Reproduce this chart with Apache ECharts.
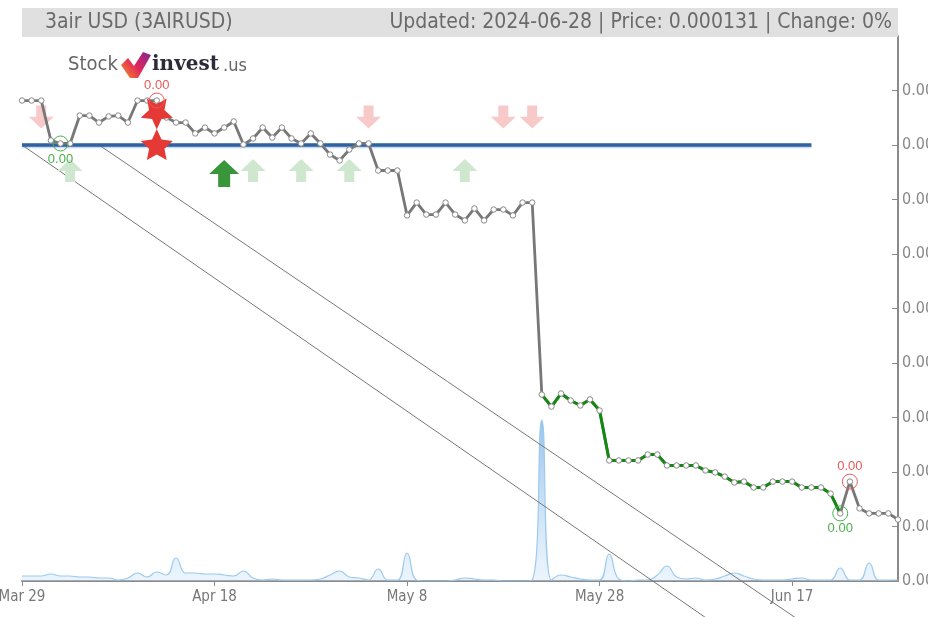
<!DOCTYPE html>
<html>
<head>
<meta charset="utf-8">
<script src="https://cdn.jsdelivr.net/npm/echarts@6/dist/echarts.min.js"></script>
<style>
    html, body { margin: 0; padding: 0; background: #fff; }
    #chart { width: 928px; height: 617px; }
</style>
</head>
<body>
<div id="chart"></div>
<script>
// daily closes, Mar 29 .. Jun 28 2024
var startDate = '2024-03-29';
var prices = [
    0.0003204, 0.0003204, 0.0003204, 0.0003021, 0.0003007, 0.0003007, 0.0003135, 0.0003135,
    0.0003103, 0.0003131, 0.0003135, 0.0003103, 0.0003204, 0.0003204, 0.0003204, 0.0003126,
    0.0003103, 0.0003103, 0.0003053, 0.0003080, 0.0003053, 0.0003080, 0.0003108, 0.0003002,
    0.0003030, 0.0003080, 0.0003034, 0.0003080, 0.0003030, 0.0003007, 0.0003053, 0.0003007,
    0.0002956, 0.0002929, 0.0002979, 0.0003007, 0.0003007, 0.0002883, 0.0002883, 0.0002883,
    0.0002677, 0.0002736, 0.0002681, 0.0002681, 0.0002736, 0.0002681, 0.0002654, 0.0002709,
    0.0002654, 0.0002704, 0.0002704, 0.0002677, 0.0002736, 0.0002736, 0.0001855, 0.0001800,
    0.0001860, 0.0001828, 0.0001805, 0.0001833, 0.0001782, 0.0001553, 0.0001553, 0.0001553,
    0.0001553, 0.0001580, 0.0001580, 0.0001530, 0.0001530, 0.0001530, 0.0001530, 0.0001507,
    0.0001498, 0.0001479, 0.0001452, 0.0001456, 0.0001429, 0.0001429, 0.0001456, 0.0001456,
    0.0001456, 0.0001429, 0.0001429, 0.0001429, 0.0001401, 0.0001310, 0.0001456, 0.0001333,
    0.0001310, 0.0001310, 0.0001310, 0.0001282
];
var volumes = [
    5, 5, 5, 7, 5, 5, 4, 4, 3, 3, 1, 3, 8, 4, 9, 6,
    23, 8, 8, 7, 7, 6, 5, 10, 3, 1, 2, 1, 1, 1, 1, 2,
    6, 10, 4, 3, 1, 12, 1, 1, 28, 1, 0, 0, 0, 1, 3, 2,
    1, 1, 0, 0, 0, 1, 161, 1, 6, 4, 2, 1, 1, 27, 2, 0,
    1, 1, 6, 15, 4, 2, 3, 1, 2, 5, 8, 5, 2, 1, 1, 1,
    2, 3, 1, 1, 1, 13, 1, 1, 18, 1, 1, 1
];
// green stretch of the line (index range)
var greenFrom = 54, greenTo = 85;
// resistance level
var resistance = [[0, 0.0003], [82, 0.0003]];
// trend channel
var trendLow = [[0, 0.0003], [72, 0.0000802]];
var trendHigh = [[8, 0.0003], [81, 0.0000812]];
// signals [index, price]
var sellArrows = [[2, 0.0003128], [36, 0.0003128], [50, 0.0003128], [53, 0.0003128]];
var buyArrows = [[5, 0.0002883], [24, 0.0002883], [29, 0.0002883], [34, 0.0002883], [46, 0.0002883]];
var buyStrong = [[21, 0.0002869]];
var sellStars = [[14, 0.0003142, 180], [14, 0.0003002, 0]];
var topCircles = [[14, 0.0003204], [86, 0.0001456]];
var bottomCircles = [[4, 0.0003007], [85, 0.0001310]];

var months = ['Jan', 'Feb', 'Mar', 'Apr', 'May', 'Jun', 'Jul', 'Aug', 'Sep', 'Oct', 'Nov', 'Dec'];
var dates = [];
var d0 = new Date(startDate + 'T00:00:00Z');
for (var i = 0; i < prices.length; i++) {
    var d = new Date(d0.getTime() + i * 86400000);
    dates.push(months[d.getUTCMonth()] + ' ' + d.getUTCDate());
}

var greenData = prices.map(function(p, i) {
    return (i >= greenFrom && i <= greenTo) ? p : '-';
});
var dotData = prices.map(function(p, i) { return [i, p]; });

var starPath = 'path://M50,0 L64.1,30.6 L97.6,34.5 L72.8,57.4 L79.4,90.5 L50,74 L20.6,90.5 L27.2,57.4 L2.4,34.5 L35.9,30.6 Z';
var upPath = 'path://M50,0 L100,52 L70,52 L70,100 L30,100 L30,52 L0,52 Z';
var downPath = 'path://M30,0 L70,0 L70,48 L100,48 L50,100 L0,48 L30,48 Z';
var narrow = '"DejaVu Sans Condensed", "Liberation Sans Narrow", "Roboto", sans-serif';

var chart = echarts.init(document.getElementById('chart'));

var option = {
    animation: false,
    backgroundColor: '#fff',
    grid: { left: 22, right: 30, top: 36, bottom: 36, outerBoundsMode: 'none', containLabel: false },
    xAxis: {
        type: 'category',
        data: dates,
        boundaryGap: false,
        axisLine: { lineStyle: { color: '#8a8a8a', width: 2 } },
        axisTick: { interval: 19, length: 5, lineStyle: { color: '#8a8a8a' } },
        axisLabel: { interval: 19, color: '#777', fontSize: 15, margin: 9, fontFamily: narrow },
        splitLine: { show: false }
    },
    yAxis: [{
        type: 'value',
        position: 'right',
        min: 0.0001,
        max: 0.00035,
        interval: 0.000025,
        axisLine: { show: true, lineStyle: { color: '#8a8a8a', width: 2 } },
        axisTick: { show: true, inside: true, length: 6, lineStyle: { color: '#8a8a8a' } },
        axisLabel: {
            color: '#888', fontSize: 16, margin: 4, fontFamily: narrow, showMaxLabel: false,
            formatter: function(v) { return v.toFixed(2); }
        },
        splitLine: { show: false }
    }, {
        type: 'value',
        min: 0,
        max: 545,
        show: false
    }],
    graphic: [
        { type: 'rect', shape: { x: 22, y: 8, width: 876, height: 29 }, style: { fill: '#e0e0e0' }, z: 100 },
        { type: 'text', x: 45, y: 23, style: { text: '3air USD (3AIRUSD)', fill: '#6a6a6a', font: '21px ' + narrow, verticalAlign: 'middle' }, z: 101 },
        { type: 'text', x: 892, y: 23, style: { text: 'Updated: 2024-06-28 | Price: 0.000131 | Change: 0%', fill: '#6a6a6a', font: '21px ' + narrow, align: 'right', verticalAlign: 'middle' }, z: 101 },
        { type: 'text', x: 68, y: 65, style: { text: 'Stock', fill: '#666', font: '20px ' + narrow, verticalAlign: 'middle' }, z: 101 },
        {
            type: 'polygon', z: 101,
            shape: { points: [[121, 65], [128, 58], [134, 66], [143, 52], [151, 55], [138, 78], [130, 78]] },
            style: {
                fill: new echarts.graphic.LinearGradient(0, 1, 1, 0, [
                    { offset: 0, color: '#f7941d' },
                    { offset: 0.5, color: '#e0245e' },
                    { offset: 1, color: '#7b2a8f' }
                ])
            }
        },
        { type: 'text', x: 152, y: 65, style: { text: 'invest', fill: '#2b2b3a', font: 'bold 20px "DejaVu Serif", serif', verticalAlign: 'middle' }, z: 101 },
        { type: 'text', x: 223, y: 66, style: { text: '.us', fill: '#666', font: '18px ' + narrow, verticalAlign: 'middle' }, z: 101 }
    ],
    series: [{
        name: 'volume',
        type: 'line',
        yAxisIndex: 1,
        data: volumes,
        smooth: true,
        symbol: 'none',
        z: 1,
        lineStyle: { color: '#9ccaee', width: 1.2 },
        areaStyle: {
            color: new echarts.graphic.LinearGradient(0, 0, 0, 1, [
                { offset: 0, color: 'rgba(80,155,222,0.85)' },
                { offset: 1, color: 'rgba(205,228,248,0.55)' }
            ])
        }
    }, {
        name: 'trendLow',
        type: 'line',
        data: trendLow,
        clip: false,
        symbol: 'none',
        z: 2,
        lineStyle: { color: '#777', width: 1 }
    }, {
        name: 'trendHigh',
        type: 'line',
        data: trendHigh,
        clip: false,
        symbol: 'none',
        z: 2,
        lineStyle: { color: '#777', width: 1 }
    }, {
        name: 'resistance',
        type: 'line',
        data: resistance,
        symbol: 'none',
        z: 3,
        lineStyle: { color: '#2f62a0', width: 3.5, shadowColor: 'rgba(90,140,200,0.5)', shadowBlur: 2, shadowOffsetY: 1 }
    }, {
        name: 'sell',
        type: 'scatter',
        data: sellArrows,
        symbol: downPath,
        symbolSize: [25, 23],
        z: 4,
        itemStyle: { color: '#f8c9c9', opacity: 1 }
    }, {
        name: 'buy',
        type: 'scatter',
        data: buyArrows,
        symbol: upPath,
        symbolSize: [25, 23],
        z: 4,
        itemStyle: { color: '#cfe7cf', opacity: 1 }
    }, {
        name: 'buyStrong',
        type: 'scatter',
        data: buyStrong,
        symbol: upPath,
        symbolSize: [30, 27],
        z: 4,
        itemStyle: { color: '#3a963a', opacity: 1 }
    }, {
        name: 'price',
        type: 'line',
        data: prices,
        symbol: 'none',
        z: 5,
        lineStyle: { color: '#777', width: 2.8 }
    }, {
        name: 'priceGreen',
        type: 'line',
        data: greenData,
        symbol: 'none',
        z: 6,
        lineStyle: { color: '#128a12', width: 3 }
    }, {
        name: 'dots',
        type: 'scatter',
        data: dotData,
        symbol: 'circle',
        symbolSize: 5.5,
        z: 7,
        itemStyle: { color: '#fff', borderColor: '#888', borderWidth: 1, opacity: 1 }
    }, {
        name: 'stars',
        type: 'scatter',
        data: sellStars,
        symbol: starPath,
        symbolSize: [32, 31],
        symbolRotate: function(v) { return v[2]; },
        z: 8,
        itemStyle: { color: '#e53935', opacity: 1 }
    }, {
        name: 'highs',
        type: 'scatter',
        data: topCircles,
        symbol: 'circle',
        symbolSize: 15,
        z: 9,
        itemStyle: { color: 'rgba(0,0,0,0)', borderColor: '#e85a5a', borderWidth: 1, opacity: 1 },
        label: {
            show: true, position: 'top', distance: 1, color: '#e85a5a', fontSize: 13,
            formatter: function(p) { return p.value[1].toFixed(2); }
        }
    }, {
        name: 'lows',
        type: 'scatter',
        data: bottomCircles,
        symbol: 'circle',
        symbolSize: 15,
        z: 9,
        itemStyle: { color: 'rgba(0,0,0,0)', borderColor: '#4caf50', borderWidth: 1, opacity: 1 },
        label: {
            show: true, position: 'bottom', distance: 1, color: '#4caf50', fontSize: 13,
            formatter: function(p) { return p.value[1].toFixed(2); }
        }
    }]
};

chart.setOption(option);
</script>
</body>
</html>
